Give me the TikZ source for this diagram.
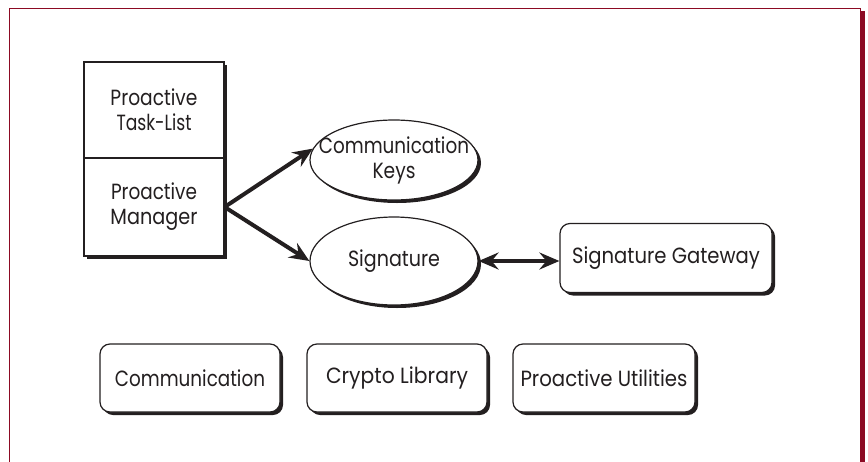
\documentclass[tikz,border=0pt]{standalone}
\usepackage{fontspec}
\setmainfont{Poppins}
\usetikzlibrary{shadows,arrows.meta,shapes.geometric}
\definecolor{framered}{RGB}{140,10,35}
\definecolor{ink}{RGB}{35,31,32}
\newcommand{\fw}[2]{\resizebox{#1}{\height}{#2}}
\begin{document}
\begin{tikzpicture}[x=1pt,y=-1pt,
  font=\fontsize{22}{25}\selectfont, color=ink,
  shad/.style={drop shadow={shadow xshift=3pt,shadow yshift=-3pt,fill=ink,opacity=1}},
  rbox/.style={draw,line width=1.2pt,rounded corners=10pt,fill=white,shad,minimum height=68pt,inner sep=0pt,align=center},
  ell/.style={ellipse,draw,line width=1.2pt,fill=white,shad,inner sep=0pt,align=center},
  sq/.style={rectangle,draw,line width=1.2pt,fill=white,shad,inner sep=0pt,align=center,minimum width=140pt},
  tip/.tip={Stealth[length=20pt,width=17pt,inset=7pt]},
  big/.style={line width=4pt,-tip},
  dbl/.style={line width=4pt,tip-tip},
]
\useasboundingbox (0,0) rectangle (868,461);
% frame
\fill[framered] (861,11) rectangle (865,470);
\draw[framered,line width=1pt] (9,470) -- (9,8) -- (860,8) -- (860,470);
% task list / manager
\node[sq,minimum height=96pt] (tl) at (154,110) {\fw{87pt}{Proactive}\\\fw{75pt}{Task-List}};
\node[sq,minimum height=98pt] (pm) at (154,207) {\fw{86pt}{Proactive}\\\fw{87pt}{Manager}};
% ellipses
\node[ell,minimum width=168pt,minimum height=80pt] (ck) at (394,160) {};
\node[align=center,inner sep=0pt] (ckt) at (ck.center) {\fw{150pt}{Communication}\\\fw{43pt}{Keys}};
\node[ell,minimum width=168pt,minimum height=88pt] (sig) at (394,261) {\fw{92pt}{Signature}};
\node[rbox,minimum width=212pt,minimum height=69pt] (sg) at (666,258) {\fw{188pt}{Signature Gateway}};
% bottom boxes
\node[rbox,minimum width=180pt] (com) at (190,378) {\fw{150pt}{Communication}};
\node[rbox,minimum width=180pt] (cry) at (397,378) {\fw{142pt}{Crypto Library}};
\node[rbox,minimum width=182pt] (pu) at (604,378) {\fw{167pt}{Proactive Utilities}};
% arrows
\draw[big] (pm.east) -- (ck.172);
\draw[big] (pm.east) -- (sig.west);
\draw[dbl] (sig.east) -- (sig.east -| sg.west);
\end{tikzpicture}
\end{document}
